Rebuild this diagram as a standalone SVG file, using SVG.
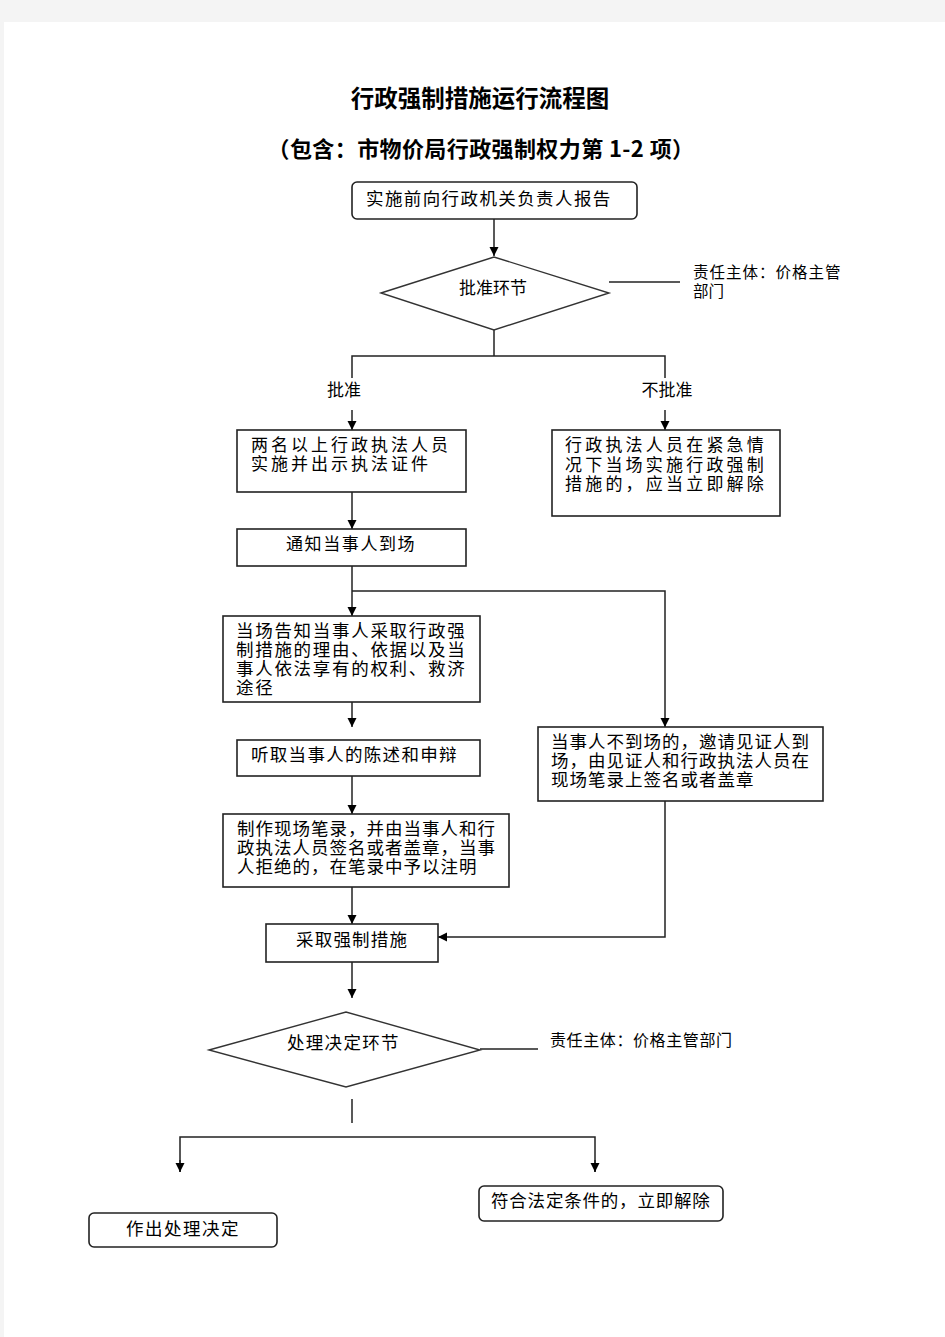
<svg xmlns="http://www.w3.org/2000/svg" width="945" height="1337" viewBox="0 0 945 1337">
<style>
text{font-family:"Noto Sans CJK SC","Liberation Sans",sans-serif;fill:#000;font-size:17px}
.t{font-weight:bold;font-size:22px}
.b{fill:#fff;stroke:#222;stroke-width:1.6}
.d{fill:#fff;stroke:#333;stroke-width:1.4}
.c line,.c polyline{fill:none;stroke:#222;stroke-width:1.5}
</style>
<defs>
<marker id="ar" viewBox="0 0 10 10" refX="10" refY="5" markerWidth="9" markerHeight="10" markerUnits="userSpaceOnUse" orient="auto">
<path d="M0,0 L10,5 L0,10 Z" fill="#000"/>
</marker>
</defs>
<rect x="0" y="0" width="945" height="1337" fill="#f4f4f4"/>
<rect x="4" y="22" width="941" height="1315" fill="#fff"/>
<text class="t" x="480" y="107" text-anchor="middle" style="font-size:23.5px">行政强制措施运行流程图</text>
<text class="t" x="481" y="157" text-anchor="middle" style="font-size:22px;letter-spacing:0.4px">（包含：市物价局行政强制权力第 1-2 项）</text>

<g class="c" id="connectors">
<line x1="494" y1="219" x2="494" y2="256" marker-end="url(#ar)"/>
<line x1="609" y1="282" x2="680" y2="282"/>
<polyline points="494,330 494,356"/>
<polyline points="352,378 352,356 665,356 665,378"/>
<line x1="352" y1="410" x2="352" y2="430" marker-end="url(#ar)"/>
<line x1="665" y1="410" x2="665" y2="430" marker-end="url(#ar)"/>
<line x1="352" y1="492" x2="352" y2="529" marker-end="url(#ar)"/>
<line x1="352" y1="566" x2="352" y2="616" marker-end="url(#ar)"/>
<polyline points="352,591 665,591 665,727" marker-end="url(#ar)"/>
<line x1="352" y1="702" x2="352" y2="727" marker-end="url(#ar)"/>
<line x1="352" y1="776" x2="352" y2="814" marker-end="url(#ar)"/>
<line x1="352" y1="887" x2="352" y2="924" marker-end="url(#ar)"/>
<polyline points="665,801 665,937 438,937" marker-end="url(#ar)"/>
<line x1="352" y1="962" x2="352" y2="998" marker-end="url(#ar)"/>
<line x1="480" y1="1049" x2="538" y2="1049"/>
<line x1="352" y1="1099" x2="352" y2="1123"/>
<polyline points="180,1172 180,1137 595,1137 595,1172"/>
<line x1="180" y1="1160" x2="180" y2="1172" marker-end="url(#ar)"/>
<line x1="595" y1="1160" x2="595" y2="1172" marker-end="url(#ar)"/>
</g>

<g id="n1"><rect class="b" x="352" y="182" width="285" height="37" rx="5"/>
<text x="366" y="205" style="font-size:17.5px;letter-spacing:1.4px">实施前向行政机关负责人报告</text></g>

<g id="n2"><polygon class="d" points="381,293 494,257 609,293 494,330"/>
<text x="493" y="294" text-anchor="middle">批准环节</text></g>

<g id="note1"><text x="693" y="278" style="font-size:15.5px;letter-spacing:1px">责任主体：价格主管</text>
<text x="693" y="297" style="font-size:15.5px">部门</text></g>

<g id="lbl1"><text x="344" y="396" text-anchor="middle">批准</text></g>
<g id="lbl2"><text x="667" y="396" text-anchor="middle">不批准</text></g>

<g id="n3"><rect class="b" x="237" y="430" width="229" height="62"/>
<text x="251" y="451" style="letter-spacing:3px">两名以上行政执法人员</text>
<text x="251" y="470" style="letter-spacing:3px">实施并出示执法证件</text></g>

<g id="n4"><rect class="b" x="552" y="430" width="228" height="86"/>
<text x="565" y="451" style="letter-spacing:3.2px">行政执法人员在紧急情</text>
<text x="565" y="471" style="letter-spacing:3.2px">况下当场实施行政强制</text>
<text x="565" y="490" style="letter-spacing:3.2px">措施的，应当立即解除</text></g>

<g id="n5"><rect class="b" x="237" y="529" width="229" height="37"/>
<text x="286" y="550" style="letter-spacing:1.6px">通知当事人到场</text></g>

<g id="n6"><rect class="b" x="223" y="616" width="257" height="86"/>
<text x="236" y="637" style="font-size:17.5px;letter-spacing:1.7px">当场告知当事人采取行政强</text>
<text x="236" y="656" style="font-size:17.5px;letter-spacing:1.7px">制措施的理由、依据以及当</text>
<text x="236" y="675" style="font-size:17.5px;letter-spacing:1.7px">事人依法享有的权利、救济</text>
<text x="236" y="694" style="font-size:17.5px;letter-spacing:1.7px">途径</text></g>

<g id="n7"><rect class="b" x="237" y="740" width="243" height="36"/>
<text x="251" y="761" style="font-size:17.5px;letter-spacing:1.3px">听取当事人的陈述和申辩</text></g>

<g id="n8"><rect class="b" x="223" y="814" width="286" height="73"/>
<text x="237" y="835" style="font-size:17.5px;letter-spacing:1px">制作现场笔录，并由当事人和行</text>
<text x="237" y="854" style="font-size:17.5px;letter-spacing:1px">政执法人员签名或者盖章，当事</text>
<text x="237" y="873" style="font-size:17.5px;letter-spacing:1px">人拒绝的，在笔录中予以注明</text></g>

<g id="n9"><rect class="b" x="538" y="727" width="285" height="74"/>
<text x="551" y="748" style="font-size:17.5px;letter-spacing:1px">当事人不到场的，邀请见证人到</text>
<text x="551" y="767" style="font-size:17.5px;letter-spacing:1px">场，由见证人和行政执法人员在</text>
<text x="551" y="786" style="font-size:17.5px;letter-spacing:1px">现场笔录上签名或者盖章</text></g>

<g id="n10"><rect class="b" x="266" y="924" width="172" height="38"/>
<text x="296" y="946" style="font-size:17.5px;letter-spacing:1.2px">采取强制措施</text></g>

<g id="n11"><polygon class="d" points="209,1050 346,1012 480,1050 346,1087"/>
<text x="287" y="1049" style="font-size:17.5px;letter-spacing:1.3px">处理决定环节</text></g>

<g id="note2"><text x="550" y="1046" style="font-size:16px;letter-spacing:0.6px">责任主体：价格主管部门</text></g>

<g id="n12"><rect class="b" x="479" y="1186" width="244" height="35" rx="5"/>
<text x="491" y="1207" style="font-size:17.5px;letter-spacing:0.8px">符合法定条件的，立即解除</text></g>

<g id="n13"><rect class="b" x="89" y="1213" width="188" height="34" rx="5"/>
<text x="126" y="1235" style="font-size:17.5px;letter-spacing:1.5px">作出处理决定</text></g>
</svg>
